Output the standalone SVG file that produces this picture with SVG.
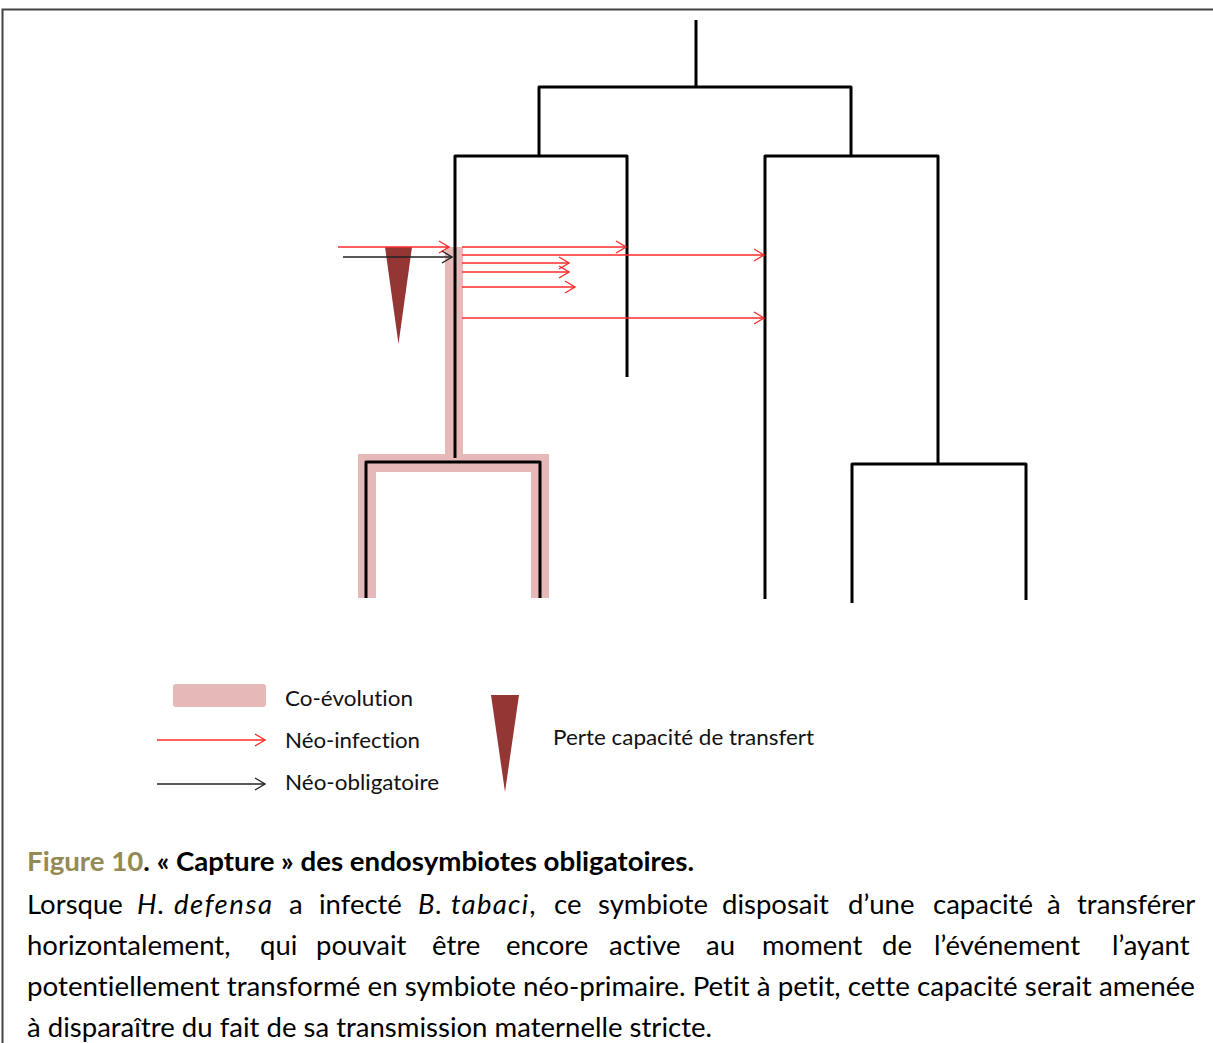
<svg xmlns="http://www.w3.org/2000/svg" width="1213" height="1043" viewBox="0 0 1213 1043">
<style>
.br{fill:none;stroke:#000;stroke-width:3;stroke-linejoin:round;stroke-linecap:butt}
.co{fill:none;stroke:#e6b8b7;stroke-width:18;stroke-linejoin:miter}
.red{fill:none;stroke:#ff2a2a;stroke-width:1.4}
.blk{fill:none;stroke:#222;stroke-width:1.4}
text{font-variant-ligatures:none}
.lg{font-family:Lato,"Liberation Sans",sans-serif;font-size:22px;fill:#111}
.cap{font-family:Lato,"Liberation Sans",sans-serif;font-size:27.5px;fill:#000}
.b{font-weight:bold}
.i{font-style:italic}
.tri{fill:#943634}
</style>
<defs>
<marker id="ar" markerUnits="userSpaceOnUse" markerWidth="14" markerHeight="16" refX="11" refY="7" orient="auto" overflow="visible">
<path d="M1,1 L11,7 L1,13" fill="none" stroke="#ff2a2a" stroke-width="1.4"/>
</marker>
<marker id="ab" markerUnits="userSpaceOnUse" markerWidth="14" markerHeight="16" refX="11" refY="7" orient="auto" overflow="visible">
<path d="M1,1 L11,7 L1,13" fill="none" stroke="#222" stroke-width="1.4"/>
</marker>
</defs>
<rect width="1213" height="1043" fill="#fff"/>
<path d="M2.5,1043 V9.5 H1213" fill="none" stroke="#444" stroke-width="2"/>

<g id="coevolution">
<path class="co" d="M454,247 V463"/>
<path class="co" d="M367,598 V463 H540 V598"/>
</g>

<g id="root"><path class="br" d="M696,20 V87"/><path class="br" d="M539,156 V87 H851 V156"/></g>
<g id="clade-left"><path class="br" d="M455,458 V156 H627 V377"/></g>
<g id="clade-right"><path class="br" d="M765,599 V156 H938 V464"/></g>
<g id="clade-bottom-left"><path class="br" d="M366,598 V462 H540 V598"/></g>
<g id="clade-bottom-right"><path class="br" d="M852,603 V464 H1026 V600"/></g>

<g id="loss-marker"><polygon class="tri" points="385,247 412,247 398.5,344"/></g>

<g id="connectors">
<line class="red" x1="338" y1="247" x2="449" y2="247" marker-end="url(#ar)"/>
<line class="blk" x1="343" y1="257" x2="452" y2="257" marker-end="url(#ab)"/>
<line class="red" x1="462" y1="247" x2="626" y2="247" marker-end="url(#ar)"/>
<line class="red" x1="462" y1="255" x2="764" y2="255" marker-end="url(#ar)"/>
<line class="red" x1="462" y1="263" x2="569" y2="263" marker-end="url(#ar)"/>
<line class="red" x1="462" y1="272" x2="569" y2="272" marker-end="url(#ar)"/>
<line class="red" x1="462" y1="287" x2="575" y2="287" marker-end="url(#ar)"/>
<line class="red" x1="462" y1="318" x2="764" y2="318" marker-end="url(#ar)"/>
</g>

<g id="legend">
<rect x="173" y="684" width="93" height="23" rx="3" fill="#e6b8b7"/>
<text class="lg" x="285" y="706" textLength="128" lengthAdjust="spacingAndGlyphs">Co-évolution</text>
<line class="red" x1="157" y1="740" x2="265" y2="740" marker-end="url(#ar)"/>
<text class="lg" x="285" y="748" textLength="135" lengthAdjust="spacingAndGlyphs">Néo-infection</text>
<line class="blk" x1="157" y1="784" x2="265" y2="784" marker-end="url(#ab)"/>
<text class="lg" x="285" y="790" textLength="154" lengthAdjust="spacingAndGlyphs">Néo-obligatoire</text>
<polygon class="tri" points="491,695 519,695 505,792"/>
<text class="lg" x="553" y="745" textLength="261" lengthAdjust="spacingAndGlyphs">Perte capacité de transfert</text>
</g>

<g id="caption">
<text class="cap b" x="27" y="871" textLength="667" lengthAdjust="spacingAndGlyphs"><tspan fill="#948a54">Figure 10</tspan>. « Capture » des endosymbiotes obligatoires.</text>
<text class="cap" y="914"><tspan x="27">Lorsque</tspan><tspan x="137" class="i" textLength="135" lengthAdjust="spacing">H. defensa</tspan><tspan x="289">a</tspan><tspan x="319">infecté</tspan><tspan x="418" class="i" textLength="110" lengthAdjust="spacing">B. tabaci</tspan><tspan>,</tspan><tspan x="554">ce</tspan><tspan x="598">symbiote</tspan><tspan x="722">disposait</tspan><tspan x="848">d’une</tspan><tspan x="933">capacité</tspan><tspan x="1047">à</tspan><tspan x="1077">transférer</tspan></text>
<text class="cap" y="955"><tspan x="27">horizontalement,</tspan><tspan x="260">qui</tspan><tspan x="316">pouvait</tspan><tspan x="432">être</tspan><tspan x="506">encore</tspan><tspan x="609">active</tspan><tspan x="706">au</tspan><tspan x="762">moment</tspan><tspan x="882">de</tspan><tspan x="934">l’événement</tspan><tspan x="1112">l’ayant</tspan></text>
<text class="cap" x="27" y="996" textLength="1168" lengthAdjust="spacingAndGlyphs">potentiellement transformé en symbiote néo-primaire. Petit à petit, cette capacité serait amenée</text>
<text class="cap" x="27" y="1037" textLength="685" lengthAdjust="spacingAndGlyphs">à disparaître du fait de sa transmission maternelle stricte.</text>
</g>
</svg>
